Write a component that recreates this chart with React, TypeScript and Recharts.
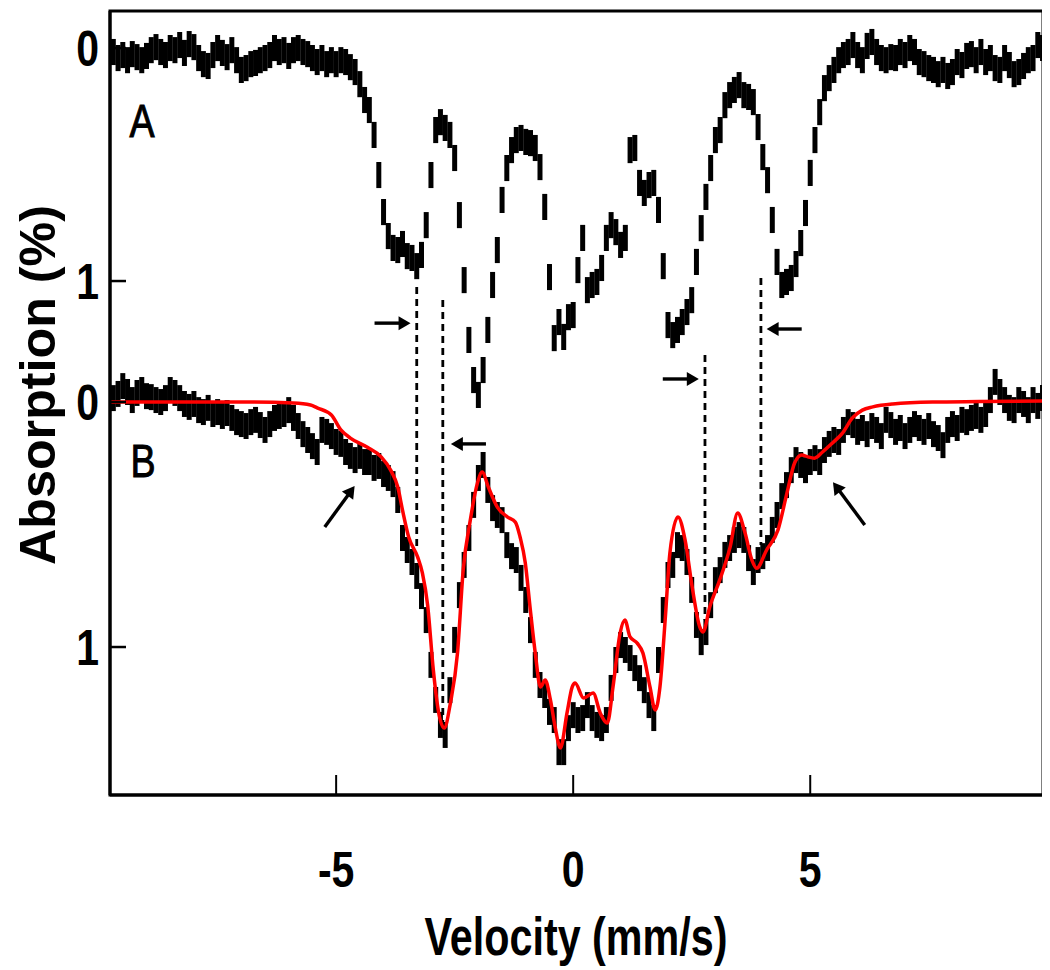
import React from "react";
import {
  ComposedChart,
  Scatter,
  Line,
  XAxis,
  YAxis,
  ErrorBar,
  ReferenceLine,
  ReferenceArea,
} from "recharts";

// velocity channels (mm/s), shared by both spectra
const VELOCITY = [
  -9.7, -9.6, -9.5, -9.4, -9.3, -9.2, -9.1, -9.0, -8.9, -8.8,
  -8.7, -8.6, -8.5, -8.4, -8.3, -8.2, -8.1, -8.0, -7.9, -7.8,
  -7.7, -7.6, -7.5, -7.4, -7.3, -7.2, -7.1, -7.0, -6.9, -6.8,
  -6.7, -6.6, -6.5, -6.4, -6.3, -6.2, -6.1, -6.0, -5.9, -5.8,
  -5.7, -5.6, -5.5, -5.4, -5.3, -5.2, -5.1, -5.0, -4.9, -4.8,
  -4.7, -4.6, -4.5, -4.4, -4.3, -4.2, -4.1, -4.0, -3.9, -3.8,
  -3.7, -3.6, -3.5, -3.4, -3.3, -3.2, -3.1, -3.0, -2.9, -2.8,
  -2.7, -2.6, -2.5, -2.4, -2.3, -2.2, -2.1, -2.0, -1.9, -1.8,
  -1.7, -1.6, -1.5, -1.4, -1.3, -1.2, -1.1, -1.0, -0.9, -0.8,
  -0.7, -0.6, -0.5, -0.4, -0.3, -0.2, -0.1, 0.0, 0.1, 0.2,
  0.3, 0.4, 0.5, 0.6, 0.7, 0.8, 0.9, 1.0, 1.1, 1.2,
  1.3, 1.4, 1.5, 1.6, 1.7, 1.8, 1.9, 2.0, 2.1, 2.2,
  2.3, 2.4, 2.5, 2.6, 2.7, 2.8, 2.9, 3.0, 3.1, 3.2,
  3.3, 3.4, 3.5, 3.6, 3.7, 3.8, 3.9, 4.0, 4.1, 4.2,
  4.3, 4.4, 4.5, 4.6, 4.7, 4.8, 4.9, 5.0, 5.1, 5.2,
  5.3, 5.4, 5.5, 5.6, 5.7, 5.8, 5.9, 6.0, 6.1, 6.2,
  6.3, 6.4, 6.5, 6.6, 6.7, 6.8, 6.9, 7.0, 7.1, 7.2,
  7.3, 7.4, 7.5, 7.6, 7.7, 7.8, 7.9, 8.0, 8.1, 8.2,
  8.3, 8.4, 8.5, 8.6, 8.7, 8.8, 8.9, 9.0, 9.1, 9.2,
  9.3, 9.4, 9.5, 9.6, 9.7, 9.8, 9.9,
];

// spectrum A, absorption (%)
const ABS_A = [
  0.017, 0.043, 0.030, 0.052, 0.026, 0.039, 0.052, 0.034, 0.009, -0.004,
  0.017, 0.030, 0.000, 0.009, -0.013, 0.021, -0.017, -0.004, 0.043, 0.069,
  0.077, 0.030, 0.000, 0.021, 0.039, 0.009, 0.052, 0.094, 0.086, 0.069,
  0.064, 0.052, 0.043, 0.030, 0.000, 0.017, 0.009, 0.034, 0.009, 0.000,
  0.017, 0.026, 0.043, 0.060, 0.043, 0.069, 0.052, 0.069, 0.052, 0.060,
  0.082, 0.103, 0.155, 0.223, 0.266, 0.373, 0.545, 0.704, 0.807, 0.858,
  0.867, 0.841, 0.893, 0.901, 0.936, 0.888, 0.760, 0.545, 0.352, 0.318,
  0.343, 0.373, 0.472, 0.717, 0.996, 1.253, 1.425, 1.489, 1.382, 1.210,
  1.017, 0.867, 0.652, 0.515, 0.438, 0.395, 0.386, 0.403, 0.408, 0.429,
  0.511, 0.682, 0.983, 1.245, 1.176, 1.240, 1.155, 1.146, 0.953, 0.815,
  1.039, 1.017, 1.004, 0.944, 0.815, 0.760, 0.790, 0.845, 0.815, 0.438,
  0.429, 0.579, 0.622, 0.588, 0.579, 0.695, 0.936, 1.189, 1.232, 1.210,
  1.176, 1.133, 1.082, 0.918, 0.773, 0.639, 0.515, 0.395, 0.352, 0.245,
  0.202, 0.180, 0.159, 0.202, 0.210, 0.232, 0.339, 0.468, 0.567, 0.738,
  0.918, 1.017, 1.004, 0.987, 0.927, 0.837, 0.708, 0.536, 0.395, 0.275,
  0.172, 0.129, 0.094, 0.052, 0.030, 0.017, -0.013, 0.030, 0.052, -0.009,
  -0.026, 0.017, 0.043, 0.052, 0.039, 0.043, 0.017, 0.030, 0.000, 0.017,
  0.060, 0.069, 0.086, 0.094, 0.112, 0.094, 0.120, 0.103, 0.060, 0.073,
  0.034, 0.026, 0.052, 0.017, 0.060, 0.043, 0.086, 0.094, 0.043, 0.073,
  0.112, 0.103, 0.077, 0.052, 0.043, -0.013, 0.000,
];

// spectrum B, absorption (%)
const ABS_B = [
  -0.016, -0.033, -0.065, -0.041, -0.008, -0.037, -0.049, -0.024, -0.020, -0.008,
  0.000, -0.016, -0.049, -0.037, -0.016, 0.008, 0.020, 0.008, 0.033, 0.041,
  0.024, 0.049, 0.041, 0.057, 0.045, 0.065, 0.082, 0.090, 0.098, 0.082,
  0.073, 0.094, 0.114, 0.090, 0.065, 0.057, 0.049, 0.033, 0.065, 0.098,
  0.131, 0.155, 0.180, 0.204, 0.114, 0.122, 0.139, 0.163, 0.171, 0.204,
  0.220, 0.237, 0.220, 0.245, 0.245, 0.269, 0.261, 0.294, 0.310, 0.335,
  0.400, 0.555, 0.604, 0.653, 0.710, 0.792, 0.890, 1.073, 1.216, 1.318,
  1.359, 1.176, 0.971, 0.788, 0.665, 0.555, 0.420, 0.310, 0.257, 0.359,
  0.433, 0.461, 0.482, 0.584, 0.629, 0.645, 0.718, 0.808, 0.931, 1.073,
  1.155, 1.196, 1.265, 1.298, 1.429, 1.429, 1.331, 1.278, 1.298, 1.290,
  1.237, 1.290, 1.318, 1.331, 1.298, 1.167, 1.053, 0.992, 1.012, 1.045,
  1.086, 1.127, 1.176, 1.237, 1.290, 1.053, 0.849, 0.706, 0.665, 0.584,
  0.596, 0.653, 0.767, 0.910, 0.980, 0.939, 0.829, 0.727, 0.686, 0.624,
  0.596, 0.563, 0.543, 0.563, 0.637, 0.694, 0.645, 0.629, 0.596, 0.522,
  0.461, 0.384, 0.339, 0.278, 0.237, 0.257, 0.278, 0.245, 0.229, 0.245,
  0.196, 0.171, 0.155, 0.163, 0.114, 0.082, 0.094, 0.122, 0.106, 0.131,
  0.098, 0.114, 0.139, 0.073, 0.094, 0.122, 0.106, 0.139, 0.114, 0.090,
  0.106, 0.122, 0.098, 0.131, 0.147, 0.176, 0.114, 0.090, 0.106, 0.073,
  0.082, 0.065, 0.057, 0.073, 0.049, -0.008, -0.082, -0.041, -0.008, 0.024,
  0.033, -0.008, 0.008, 0.033, -0.008, 0.016, -0.016,
];

// statistical error of one channel
const ERR_A = 0.056;
const ERR_B = 0.053;

// red fit through spectrum B
const FIT_V = [
  -9.77, -7.9, -6.8, -5.9, -5.54, -5.4, -5.1, -4.9, -4.7, -4.35, -4.05, -3.85,
  -3.7, -3.6, -3.47, -3.28, -3.18, -3.07, -2.95, -2.84, -2.72, -2.59, -2.44,
  -2.32, -2.17, -2.02, -1.92, -1.79, -1.6, -1.39, -1.22, -1.12, -1.01, -0.91,
  -0.8, -0.69, -0.59, -0.48, -0.38, -0.27, -0.13, -0.02, 0.04, 0.22, 0.42,
  0.57, 0.72, 0.84, 0.99, 1.09, 1.2, 1.35, 1.47, 1.62, 1.73, 1.83, 1.94, 2.04,
  2.21, 2.36, 2.51, 2.67, 2.74, 2.88, 3.09, 3.31, 3.47, 3.62, 3.77, 3.87, 4.08,
  4.32, 4.51, 4.67, 4.82, 4.95, 5.09, 5.26, 5.47, 5.68, 5.89, 6.1, 6.32, 6.74,
  7.58, 8.57, 9.91,
];
const FIT_B = [
  0, 0, 0, 0.004, 0.012, 0.024, 0.053, 0.114, 0.147, 0.184, 0.224, 0.278,
  0.347, 0.441, 0.551, 0.633, 0.698, 0.829, 1.094, 1.265, 1.331, 1.229, 1.024,
  0.686, 0.482, 0.331, 0.286, 0.347, 0.429, 0.469, 0.49, 0.551, 0.657, 0.837,
  1.024, 1.163, 1.135, 1.216, 1.327, 1.412, 1.269, 1.163, 1.147, 1.208, 1.188,
  1.269, 1.31, 1.163, 0.943, 0.89, 0.959, 0.984, 1.024, 1.163, 1.257, 1.163,
  0.89, 0.616, 0.469, 0.563, 0.755, 0.918, 0.939, 0.837, 0.727, 0.592, 0.453,
  0.531, 0.645, 0.678, 0.604, 0.522, 0.371, 0.249, 0.216, 0.224, 0.229, 0.204,
  0.167, 0.127, 0.065, 0.033, 0.02, 0.008, 0, -0.002, -0.004,
];

// dashed guides and arrows, in velocity / B-absorption units
const GUIDE_V = [-3.3, -2.75, 2.78, 3.96];
const GUIDE_TOP = [-0.469, -0.416, -0.192, -0.506];
const GUIDE_BOTTOM = [0.592, 1.327, 0.89, 0.584];

const ARROW_FROM_V = [-4.19, -1.84, 1.89, 4.82, -5.24, 6.15];
const ARROW_FROM_B = [-0.322, 0.171, -0.094, -0.298, 0.51, 0.502];
const ARROW_TO_V = [-3.43, -2.58, 2.65, 4.08, -4.61, 5.48];
const ARROW_TO_B = [-0.322, 0.171, -0.094, -0.298, 0.343, 0.327];

const X_TICKS = [-5, 0, 5];
const Y_TICKS = [0, 1];

const X_DOMAIN: [number, number] = [-9.77, 9.91];
const A_DOMAIN: [number, number] = [-0.159, 3.206];
const B_DOMAIN: [number, number] = [-1.596, 1.604];

const SANS = "'Liberation Sans', Arial, sans-serif";

const dataA = VELOCITY.map((v, i) => ({ v, a: ABS_A[i], err: ERR_A }));
const dataB = VELOCITY.map((v, i) => ({ v, b: ABS_B[i], err: ERR_B }));
const fit = FIT_V.map((v, i) => ({ v, b: FIT_B[i] }));

const W = 1042;
const H = 962;
const X_TICK_LEN = 20;
const Y_TICK_LEN = 16;

// the original lettering is a condensed face: squeeze it horizontally
function Narrow({ x, y, size, bold, anchor = "middle", squeeze = 0.82, outline = 0, children }: any) {
  return (
    <text
      transform={`translate(${x} ${y}) scale(${squeeze} 1)`}
      x={0}
      y={0}
      textAnchor={anchor}
      fontSize={size}
      fontWeight={bold ? "bold" : "normal"}
      fontFamily={SANS}
      fill="#000"
      stroke={outline ? "#000" : "none"}
      strokeWidth={outline}
    >
      {children}
    </text>
  );
}

// tick anchor sits on the axis line; draw the inward tick mark here too
function XTick(props: any) {
  const { x, y, payload } = props;
  return (
    <g>
      <line x1={x} y1={y} x2={x} y2={y - X_TICK_LEN} stroke="#000" strokeWidth={2} />
      <Narrow x={x} y={y + 92} size={50} bold>
        {payload.value}
      </Narrow>
    </g>
  );
}

// tick anchor sits Y_TICK_LEN inside the plot
function YTick(props: any) {
  const { x, y, payload } = props;
  return (
    <g>
      <line x1={x - Y_TICK_LEN} y1={y} x2={x} y2={y} stroke="#000" strokeWidth={2.5} />
      <Narrow x={x - 27} y={y + 18} size={50} bold anchor="end">
        {payload.value}
      </Narrow>
    </g>
  );
}

function Arrow(props: any) {
  const { x1, y1, x2, y2 } = props;
  const dx = x2 - x1;
  const dy = y2 - y1;
  const len = Math.hypot(dx, dy) || 1;
  const ux = dx / len;
  const uy = dy / len;
  const head = 12;
  const half = 7;
  const bx = x2 - ux * head;
  const by = y2 - uy * head;
  return (
    <g>
      <line x1={x1} y1={y1} x2={bx + ux} y2={by + uy} stroke="#000" strokeWidth={3.4} />
      <polygon
        points={`${x2},${y2} ${bx - uy * half},${by + ux * half} ${bx + uy * half},${by - ux * half}`}
        fill="#000"
      />
    </g>
  );
}

export default function App() {
  return (
    <div style={{ width: W, height: H }}>
      <ComposedChart width={W} height={H} margin={{ top: 3, right: 7, bottom: 55, left: 42 }}>
        <XAxis
          type="number"
          dataKey="v"
          domain={X_DOMAIN}
          ticks={X_TICKS}
          interval={0}
          allowDataOverflow
          height={120}
          tickSize={-X_TICK_LEN}
          tickMargin={X_TICK_LEN}
          tick={<XTick />}
          axisLine={{ stroke: "#000", strokeWidth: 3 }}
          tickLine={false}
        />
        <YAxis
          yAxisId="A"
          type="number"
          domain={A_DOMAIN}
          reversed
          allowDataOverflow
          ticks={Y_TICKS}
          interval={0}
          width={60}
          tickSize={-Y_TICK_LEN}
          tickMargin={0}
          tick={<YTick />}
          axisLine={{ stroke: "#000", strokeWidth: 3 }}
          tickLine={false}
        />
        <YAxis
          yAxisId="B"
          type="number"
          domain={B_DOMAIN}
          reversed
          allowDataOverflow
          ticks={Y_TICKS}
          interval={0}
          mirror
          width={1}
          tickSize={Y_TICK_LEN}
          tickMargin={0}
          tick={<YTick />}
          axisLine={false}
          tickLine={false}
        />

        <ReferenceArea
          yAxisId="B"
          x1={X_DOMAIN[0]}
          x2={X_DOMAIN[1]}
          y1={B_DOMAIN[0]}
          y2={B_DOMAIN[1]}
          fill="none"
          stroke="#000"
          strokeWidth={3}
        />

        {GUIDE_V.map((v, i) => (
          <ReferenceLine
            key={`g${i}`}
            yAxisId="B"
            segment={[
              { x: v, y: GUIDE_TOP[i] },
              { x: v, y: GUIDE_BOTTOM[i] },
            ]}
            stroke="#000"
            strokeWidth={2.8}
            strokeDasharray="7 5"
          />
        ))}

        {ARROW_FROM_V.map((v, i) => (
          <ReferenceLine
            key={`a${i}`}
            yAxisId="B"
            segment={[
              { x: v, y: ARROW_FROM_B[i] },
              { x: ARROW_TO_V[i], y: ARROW_TO_B[i] },
            ]}
            shape={(p: any) => <Arrow {...p} />}
          />
        ))}

        <Scatter yAxisId="A" data={dataA} dataKey="a" isAnimationActive={false} shape={() => <g />}>
          <ErrorBar dataKey="err" direction="y" width={0} stroke="#000" strokeWidth={5} isAnimationActive={false} />
        </Scatter>
        <Scatter yAxisId="B" data={dataB} dataKey="b" isAnimationActive={false} shape={() => <g />}>
          <ErrorBar dataKey="err" direction="y" width={0} stroke="#000" strokeWidth={5} isAnimationActive={false} />
        </Scatter>
        <Line
          yAxisId="B"
          data={fit}
          dataKey="b"
          type="monotone"
          stroke="#ff0000"
          strokeWidth={3.5}
          dot={false}
          activeDot={false}
          isAnimationActive={false}
        />

        <Narrow x={134} y={129} size={47} squeeze={0.8} outline={1}>
          A
        </Narrow>
        <Narrow x={135} y={469} size={47} squeeze={0.8} outline={1}>
          B
        </Narrow>
        <text
          x={568}
          y={947}
          textAnchor="middle"
          fontSize={54}
          fontWeight="bold"
          fontFamily={SANS}
          textLength={303}
          lengthAdjust="spacingAndGlyphs"
          fill="#000"
        >
          Velocity (mm/s)
        </text>
        <text
          x={47}
          y={377}
          transform="rotate(-90, 47, 377)"
          textAnchor="middle"
          fontSize={50}
          fontWeight="bold"
          fontFamily={SANS}
          textLength={360}
          lengthAdjust="spacingAndGlyphs"
          fill="#000"
        >
          Absorption (%)
        </text>
      </ComposedChart>
    </div>
  );
}
